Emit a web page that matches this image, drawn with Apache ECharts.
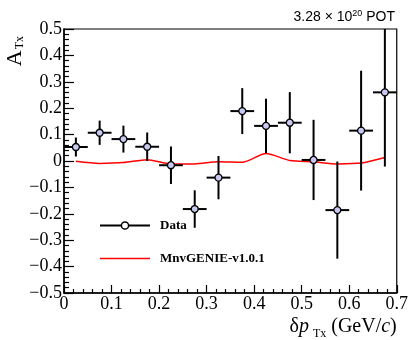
<!DOCTYPE html>
<html>
<head>
<meta charset="utf-8">
<script src="https://cdn.jsdelivr.net/npm/echarts@6/dist/echarts.min.js"></script>
<style>
html,body{margin:0;padding:0;background:#fff;}
#chart{width:411px;height:340px;}
</style>
</head>
<body>
<div id="chart"></div>
<script>
// bin centres of dpTx (GeV/c)
var binCenters = [0.025, 0.075, 0.125, 0.175, 0.225, 0.275, 0.325, 0.375, 0.425, 0.475, 0.525, 0.575, 0.625, 0.675];
var binHalfWidth = [0.025, 0.025, 0.025, 0.025, 0.025, 0.025, 0.025, 0.025, 0.025, 0.025, 0.025, 0.025, 0.025, 0.025];
// Data A_Tx and its uncertainty
var dataValues = [0.053, 0.107, 0.083, 0.054, -0.016, -0.182, -0.063, 0.189, 0.133, 0.145, 0.004, -0.186, 0.115, 0.260];
var dataErrors = [0.036, 0.046, 0.051, 0.054, 0.071, 0.071, 0.082, 0.087, 0.103, 0.116, 0.152, 0.184, 0.227, 0.281];
// MnvGENIE-v1.0.1 prediction
var mcValues = [-0.001, -0.009, -0.006, 0.005, -0.011, -0.011, -0.003, -0.005, 0.028, 0.002, -0.003, -0.011, -0.008, 0.013];

var serif = "'Liberation Serif','Times New Roman',serif";
var sans = "'Liberation Sans',Arial,sans-serif";

function fmt(v) {
  if (Math.abs(v) < 1e-9) return '0';
  return (v < 0 ? '\u2212' : '') + Math.abs(v).toFixed(1);
}

var errData = binCenters.map(function (x, i) { return [x, dataValues[i], dataErrors[i], binHalfWidth[i]]; });
var ptData = binCenters.map(function (x, i) { return [x, dataValues[i]]; });
var mcData = binCenters.map(function (x, i) { return [x, mcValues[i]]; });

var chart = echarts.init(document.getElementById('chart'), null, {renderer: 'canvas'});
chart.setOption({
  animation: false,
  backgroundColor: '#fff',
  title: {
    text: '3.28 \u00d7 10{sup|20} POT',
    right: 16, top: 9, padding: 0,
    textStyle: {
      fontFamily: sans, fontSize: 14, fontWeight: 'normal', color: '#000', lineHeight: 16,
      rich: {sup: {fontFamily: sans, fontSize: 9, lineHeight: 9, verticalAlign: 'top', color: '#000'}}
    }
  },
  grid: {left: 64, right: 12, top: 29, bottom: 47, show: true, borderColor: '#000', borderWidth: 1.2, backgroundColor: 'transparent'},
  legend: {
    orient: 'vertical', left: 99, top: 219, padding: 0,
    itemWidth: 50, itemHeight: 9, itemGap: 20, selectedMode: false,
    textStyle: {fontFamily: serif, fontWeight: 'bold', fontSize: 13, color: '#000', padding: [0, 0, 0, 5]},
    data: [
      {name: 'Data', lineStyle: {color: '#000', width: 2, opacity: 1}, itemStyle: {color: '#fff', borderColor: '#000', borderWidth: 1.5, opacity: 1}},
      {name: 'MnvGENIE-v1.0.1', lineStyle: {color: '#ff0000', width: 1.5, opacity: 1}, itemStyle: {opacity: 0}}
    ]
  },
  xAxis: {
    type: 'value', min: 0, max: 0.7, interval: 0.1,
    name: '{g|\u03b4}{i|p}{s|Tx}{n| (GeV/}{i|c}{n|)}',
    nameLocation: 'end', nameGap: 0, nameMoveOverlap: false,
    nameTextStyle: {
      align: 'right', verticalAlign: 'top', padding: [20, 0, 0, 0], color: '#000',
      rich: {
        g: {fontFamily: serif, fontSize: 20, lineHeight: 27, color: '#000'},
        i: {fontFamily: serif, fontSize: 20, lineHeight: 27, fontStyle: 'italic', color: '#000'},
        n: {fontFamily: serif, fontSize: 20, lineHeight: 27, color: '#000'},
        s: {fontFamily: serif, fontSize: 12, lineHeight: 12, verticalAlign: 'bottom', padding: [0, 0, 0, 4], color: '#000'}
      }
    },
    axisLine: {onZero: false, lineStyle: {color: '#000', width: 1.5}},
    axisTick: {inside: true, length: 8, lineStyle: {color: '#000', width: 1.2}},
    minorTick: {show: true, splitNumber: 5, length: 4, lineStyle: {color: '#000', width: 1.2}},
    splitLine: {show: false},
    axisLabel: {fontFamily: serif, fontSize: 18, color: '#000', margin: 2, showMinLabel: true, showMaxLabel: true, formatter: fmt}
  },
  yAxis: {
    type: 'value', min: -0.5, max: 0.5, interval: 0.1,
    name: '{a|A}{s|Tx}',
    nameLocation: 'end', nameGap: -7, nameRotate: 90, nameMoveOverlap: false,
    nameTextStyle: {
      align: 'right', verticalAlign: 'bottom', padding: [0, 0, 38, 0], color: '#000',
      rich: {
        a: {fontFamily: serif, fontSize: 22, lineHeight: 22, color: '#000'},
        s: {fontFamily: serif, fontSize: 12, lineHeight: 12, verticalAlign: 'bottom', padding: [0, 0, 0, 1], color: '#000'}
      }
    },
    axisLine: {onZero: false, lineStyle: {color: '#000', width: 1.5}},
    axisTick: {inside: true, length: 10, lineStyle: {color: '#000', width: 1.2}},
    minorTick: {show: true, splitNumber: 5, length: 5, lineStyle: {color: '#000', width: 1.2}},
    splitLine: {show: false},
    axisLabel: {fontFamily: serif, fontSize: 18, color: '#000', margin: 2, showMinLabel: true, showMaxLabel: true, formatter: fmt}
  },
  series: [
    {
      name: 'MnvGENIE-v1.0.1', type: 'line', data: mcData, symbol: 'none', smooth: 0.25, z: 1,
      lineStyle: {color: '#ff0000', width: 1.5}, itemStyle: {color: '#ff0000'},
      emphasis: {disabled: true}, silent: true
    },
    {
      name: 'Data errors', type: 'custom', data: errData, z: 2, silent: true,
      encode: {x: 0, y: 1},
      renderItem: function (params, api) {
        var x = api.value(0), y = api.value(1), e = api.value(2), w = api.value(3);
        var cs = params.coordSys;
        var top = api.coord([x, y + e]), bot = api.coord([x, y - e]);
        var l = api.coord([x - w, y]), r = api.coord([x + w, y]);
        var t = Math.max(top[1], cs.y), b = Math.min(bot[1], cs.y + cs.height);
        return {
          type: 'group',
          children: [
            {type: 'line', shape: {x1: top[0], y1: t, x2: bot[0], y2: b}, style: {stroke: '#000', lineWidth: 2}},
            {type: 'line', shape: {x1: l[0], y1: l[1], x2: r[0], y2: r[1]}, style: {stroke: '#000', lineWidth: 2}}
          ]
        };
      }
    },
    {
      name: 'Data', type: 'line', data: ptData, z: 3, symbol: 'circle', symbolSize: 7, showSymbol: true,
      itemStyle: {color: '#c8c9f3', borderColor: '#000', borderWidth: 1.3},
      lineStyle: {width: 0, opacity: 0},
      emphasis: {disabled: true}, silent: true
    }
  ]
});
</script>
</body>
</html>
